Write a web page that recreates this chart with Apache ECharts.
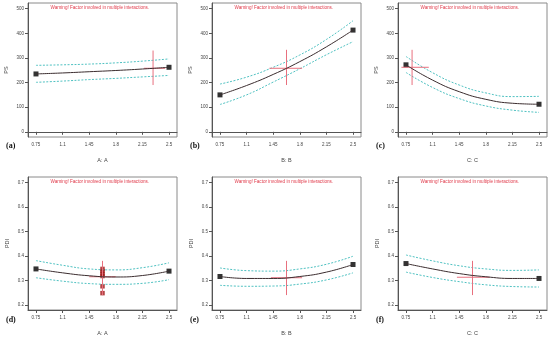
<!DOCTYPE html>
<html><head><meta charset="utf-8">
<script src="https://cdn.jsdelivr.net/npm/echarts@6/dist/echarts.min.js"></script>
<style>html,body{margin:0;padding:0;background:#fff}#c{width:550px;height:337px}</style>
</head><body><div id="c"></div>
<script>
const xTicks = [0.75, 1.1, 1.45, 1.8, 2.15, 2.5];
const psTicks = [0, 100, 200, 300, 400, 500];
const pdiTicks = [0.2, 0.3, 0.4, 0.5, 0.6, 0.7];
const panelLabels = ['(a)', '(b)', '(c)', '(d)', '(e)', '(f)'];
const xNames = ['A: A', 'B: B', 'C: C', 'A: A', 'B: B', 'C: C'];
const yNames = ['PS', 'PS', 'PS', 'PDI', 'PDI', 'PDI'];
const warning = 'Warning! Factor involved in multiple interactions.';

// PS vs A, B, C
const psMeanA = [235, 239, 244, 249, 255, 262];
const psUpA = [270, 272, 275, 280, 287, 296];
const psLoA = [201, 206, 212, 217, 223, 229];
const psMeanB = [150, 188, 233, 285, 345, 413];
const psUpB = [194, 222, 262, 312, 375, 451];
const psLoB = [111, 150, 202, 256, 313, 366];
const psMeanC = [272, 210, 163, 132, 116, 112];
const psUpC = [306, 240, 190, 158, 143, 144];
const psLoC = [241, 180, 135, 105, 88, 79];
// PDI vs A, B, C
const pdiMeanA = [0.347, 0.331, 0.319, 0.314, 0.320, 0.338];
const pdiUpA = [0.381, 0.362, 0.347, 0.343, 0.352, 0.372];
const pdiLoA = [0.311, 0.297, 0.287, 0.284, 0.288, 0.303];
const pdiMeanB = [0.316, 0.308, 0.308, 0.316, 0.334, 0.365];
const pdiUpB = [0.351, 0.340, 0.338, 0.347, 0.366, 0.399];
const pdiLoB = [0.280, 0.276, 0.277, 0.285, 0.302, 0.331];
const pdiMeanC = [0.369, 0.347, 0.328, 0.315, 0.308, 0.308];
const pdiUpC = [0.404, 0.380, 0.360, 0.347, 0.341, 0.343];
const pdiLoC = [0.334, 0.312, 0.295, 0.282, 0.275, 0.273];
// design points (panel d)
const designX = [1.625, 1.625, 1.625, 1.625, 1.625, 1.625];
const designPDI = [0.347, 0.338, 0.327, 0.318, 0.276, 0.248];
// crosshairs: [x, yLow, yHigh, yH, xLeft, xRight]
const crossA = [2.29, 190, 330, 258, 2.17, 2.45];
const crossB = [1.625, 190, 333, 258, 1.40, 1.83];
const crossC = [0.83, 190, 333, 262, 0.69, 1.05];
const crossD = [1.625, 0.24, 0.38, 0.315, 1.45, 1.80];
const crossE = [1.625, 0.24, 0.38, 0.311, 1.42, 1.83];
const crossF = [1.625, 0.24, 0.38, 0.313, 1.42, 1.85];

const panels = [
  {mean: psMeanA, up: psUpA, lo: psLoA, cross: crossA},
  {mean: psMeanB, up: psUpB, lo: psLoB, cross: crossB},
  {mean: psMeanC, up: psUpC, lo: psLoC, cross: crossC},
  {mean: pdiMeanA, up: pdiUpA, lo: pdiLoA, cross: crossD},
  {mean: pdiMeanB, up: pdiUpB, lo: pdiLoB, cross: crossE},
  {mean: pdiMeanC, up: pdiUpC, lo: pdiLoC, cross: crossF}
];

const lefts = [28, 212, 398];
const tops = [3, 177];
const W = 149, H = 134;
const grids = [], xAxes = [], yAxes = [], series = [], graphics = [];
const axisCol = '#555', textCol = '#444';
panels.forEach((p, i) => {
  const col = i % 3, row = Math.floor(i / 3);
  const isPS = row === 0;
  grids.push({left: lefts[col], top: tops[row], width: W, height: H, show: true,
    borderColor: '#8a8a8a', borderWidth: 1, backgroundColor: 'transparent'});
  xAxes.push({type: 'value', gridIndex: i, min: 0.645, max: 2.605,
    name: xNames[i], nameLocation: 'middle', nameGap: 20,
    nameTextStyle: {fontSize: 5.5, color: textCol, fontFamily: 'Liberation Sans'},
    axisLine: {lineStyle: {color: axisCol, width: 1}},
    axisTick: {customValues: xTicks, length: 3, lineStyle: {color: axisCol}},
    axisLabel: {customValues: xTicks, fontSize: 4.5, color: textCol, margin: 5,
      fontFamily: 'Liberation Sans', formatter: v => String(+v.toFixed(2))},
    splitLine: {show: false}});
  const ticks = isPS ? psTicks : pdiTicks;
  yAxes.push({type: 'value', gridIndex: i,
    min: isPS ? -21 : 0.179, max: isPS ? 523 : 0.723,
    name: yNames[i], nameLocation: 'middle', nameGap: isPS ? 19 : 18,
    nameTextStyle: {fontSize: 5.5, color: textCol, fontFamily: 'Liberation Sans'},
    axisLine: {show: true, lineStyle: {color: axisCol, width: 1}},
    axisTick: {show: true, customValues: ticks, length: 3, lineStyle: {color: axisCol}},
    axisLabel: {customValues: ticks, fontSize: 4.5, color: textCol, margin: 4,
      fontFamily: 'Liberation Sans', formatter: v => String(+v.toFixed(2))},
    splitLine: {show: false}});
  const xy = arr => xTicks.map((x, k) => [x, arr[k]]);
  const band = arr => ({type: 'line', xAxisIndex: i, yAxisIndex: i, data: xy(arr),
    smooth: 0.5, symbol: 'none', silent: true,
    lineStyle: {color: '#4fc1c1', width: 1, type: [2, 1.5]}});
  series.push(band(p.up), band(p.lo));
  const c = p.cross;
  series.push({type: 'line', xAxisIndex: i, yAxisIndex: i, symbol: 'none', silent: true,
    data: [[c[0], c[1]], [c[0], c[2]]], lineStyle: {color: '#e8707e', width: 1}});
  series.push({type: 'line', xAxisIndex: i, yAxisIndex: i, symbol: 'none', silent: true,
    data: [[c[4], c[3]], [c[5], c[3]]], lineStyle: {color: '#e8707e', width: 1}});
  series.push({type: 'line', xAxisIndex: i, yAxisIndex: i, data: xy(p.mean),
    smooth: 0.5, symbol: 'none', silent: true,
    lineStyle: {color: '#3a2c2e', width: 1}});
  series.push({type: 'scatter', xAxisIndex: i, yAxisIndex: i, symbol: 'rect', symbolSize: 5,
    itemStyle: {color: '#000'}, silent: true,
    data: [[xTicks[0], p.mean[0]], [xTicks[5], p.mean[5]]]});
  if (i === 3) {
    series.push({type: 'scatter', xAxisIndex: i, yAxisIndex: i, symbol: 'rect', symbolSize: 4.5,
      itemStyle: {color: '#a01818'}, silent: true,
      data: designX.map((x, k) => [x, designPDI[k]])});
  }
  graphics.push({type: 'text', left: lefts[col] + W / 2 - 52, top: tops[row] + 2,
    style: {text: warning, fill: '#e03a4a', fontSize: 4.6, fontFamily: 'Liberation Sans'}});
  graphics.push({type: 'text', left: lefts[col] - 22, top: tops[row] + H + 5,
    style: {text: panelLabels[i], fill: '#111', fontSize: 8, fontWeight: 'bold',
      fontFamily: 'Liberation Serif'}});
});

const chart = echarts.init(document.getElementById('c'), null, {renderer: 'canvas'});
chart.setOption({animation: false, grid: grids, xAxis: xAxes, yAxis: yAxes,
  series: series, graphic: graphics});
</script></body></html>
